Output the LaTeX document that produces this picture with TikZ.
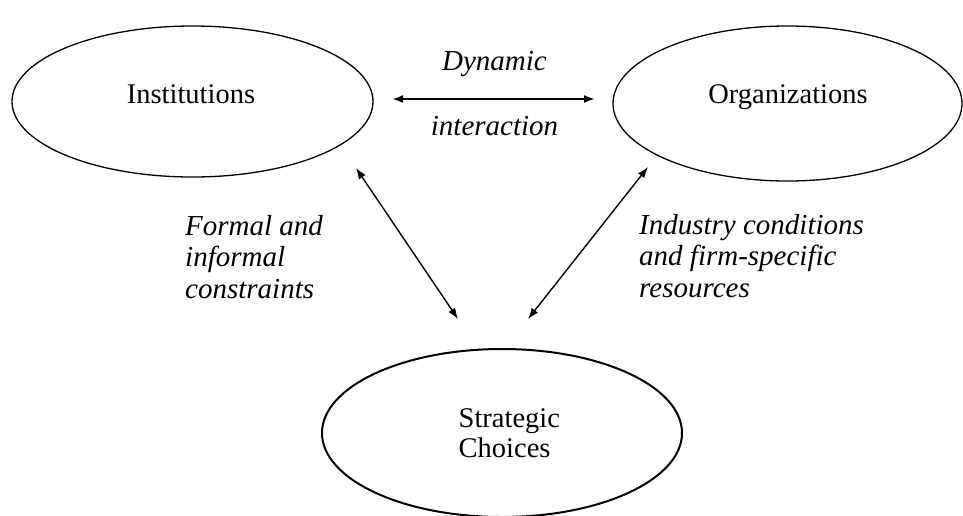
\documentclass[tikz,border=0pt]{standalone}
\usepackage{fontspec}
\setmainfont{Liberation Serif}
\usetikzlibrary{shapes.geometric,arrows.meta}
\begin{document}
\begin{tikzpicture}[x=1pt,y=-1pt,
  oval/.style={draw,ellipse,inner sep=0pt,line width=1.3pt},
  lbl/.style={font=\fontsize{28.5}{32}\selectfont,inner sep=0pt,anchor=base},
  lab/.style={font=\fontsize{29}{31.5}\selectfont\itshape,inner sep=0pt,align=left,anchor=base west},
  link/.style={{Latex[length=11pt,width=8pt]}-{Latex[length=11pt,width=8pt]},line width=1.4pt}]
\useasboundingbox (0,0) rectangle (963,515);
\node[oval,minimum width=361pt,minimum height=151pt] (inst) at (192.5,101.5) {};
\node[oval,minimum width=349pt,minimum height=155pt] (org) at (787.5,103.5) {};
\node[oval,line width=2pt,minimum width=360pt,minimum height=168pt] (sc) at (502,433) {};
\node[lbl] (instt) at (191,103) {Institutions};
\node[lbl] (orgt) at (788,103) {Organizations};
\node[lbl,align=left,font=\fontsize{28.5}{29.5}\selectfont,anchor=base west] (sct) at (458.5,457) {Strategic\\Choices};
\node[lab,anchor=base] (dyn) at (494.5,70) {Dynamic};
\node[lab,anchor=base] (inter) at (494.5,135) {interaction};
\node[lab] (formal) at (185,298) {Formal and\\informal\\constraints};
\node[lab] (ind) at (639,297) {Industry conditions\\and firm-specific\\resources};
\coordinate (h1) at (392,99);
\coordinate (h2) at (595,99);
\coordinate (l1) at (356,168);
\coordinate (l2) at (458,319);
\coordinate (r1) at (648,167);
\coordinate (r2) at (528,319);
\draw[link,line width=2pt] (h1) -- (h2);
\draw[link] (l1) -- (l2);
\draw[link] (r2) -- (r1);
\end{tikzpicture}
\end{document}
